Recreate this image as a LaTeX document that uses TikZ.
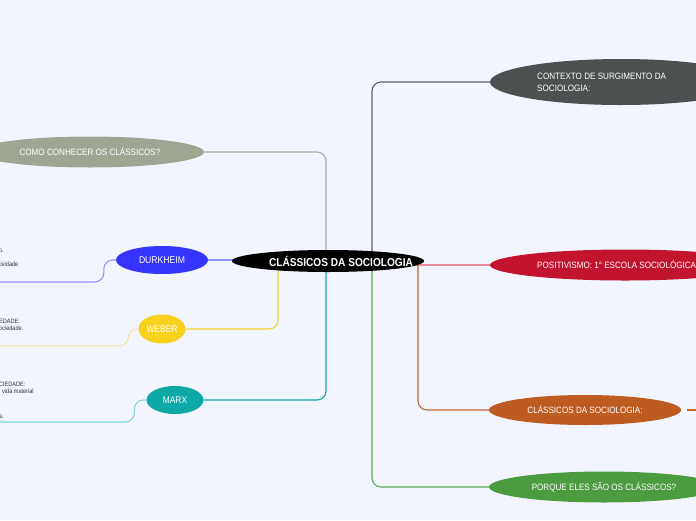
\documentclass[tikz,border=0pt]{standalone}
\usepackage{fontspec}
\setmainfont{Liberation Sans}[FakeStretch=0.88]
\usetikzlibrary{shapes.geometric}
\pgfdeclarelayer{bg}
\pgfsetlayers{bg,main}
\definecolor{cBg}{HTML}{F2F5FE}
\definecolor{cRoot}{HTML}{000000}
\definecolor{cCtx}{HTML}{4B5050}
\definecolor{cCtxL}{HTML}{5B6060}
\definecolor{cPos}{HTML}{C2132F}
\definecolor{cPosL}{HTML}{E68E9C}
\definecolor{cCls}{HTML}{BE5B21}
\definecolor{cClsL}{HTML}{C2652E}
\definecolor{cPq}{HTML}{4B9B3F}
\definecolor{cPqL}{HTML}{5DAA50}
\definecolor{cComo}{HTML}{9EA693}
\definecolor{cComoL}{HTML}{A8AF9F}
\definecolor{cDur}{HTML}{3535FF}
\definecolor{cDurL}{HTML}{9494FF}
\definecolor{cWeb}{HTML}{F8D11E}
\definecolor{cWebL}{HTML}{F6D22E}
\definecolor{cWebLL}{HTML}{F4E5A4}
\definecolor{cMarx}{HTML}{0DA8A8}
\definecolor{cMarxL}{HTML}{17ABAB}
\definecolor{cMarxLL}{HTML}{80D5D9}
\definecolor{cTxt}{HTML}{333333}
\begin{document}
\begin{tikzpicture}[x=1pt,y=-1pt,
  topic/.style={ellipse, inner sep=0pt, text=white, font=\fontsize{9.2}{12}\selectfont},
  ttext/.style={inner sep=0pt, text=white, font=\fontsize{9.2}{12}\selectfont},
  conn/.style={line width=1.1pt, rounded corners=9pt},
  tiny/.style={anchor=west, inner sep=0pt, text=cTxt, font=\fontsize{6.3}{7}\selectfont}]
\useasboundingbox (0,0) rectangle (696,520);
\clip (0,0) rectangle (696,520);
\begin{pgfonlayer}{bg}
\fill[cBg] (0,0) rectangle (696,520);
\end{pgfonlayer}

% central
\node[topic, fill=cRoot, minimum width=192pt, minimum height=22pt] (root) at (328,261) {};
\node[ttext, font=\bfseries\fontsize{11.5}{12}\selectfont] (roott) at (341,261) {CLÁSSICOS DA SOCIOLOGIA};

% right topics
\node[topic, fill=cCtx, minimum width=262pt, minimum height=46pt] (ctx) at (621,82) {};
\node[ttext, anchor=west, align=left] (ctxt) at (537,82) {CONTEXTO DE SURGIMENTO DA\\SOCIOLOGIA:};
\node[topic, fill=cPos, minimum width=270pt, minimum height=31pt] (pos) at (625,265) {};
\node[ttext, anchor=west] (post) at (537,265) {POSITIVISMO: 1° ESCOLA SOCIOLÓGICA};
\node[topic, fill=cCls, minimum width=192pt, minimum height=30pt] (cls) at (585,410) {CLÁSSICOS DA SOCIOLOGIA:};
\node[topic, fill=cPq, minimum width=230pt, minimum height=31pt] (pq) at (604,487) {PORQUE ELES SÃO OS CLÁSSICOS?};

% left topics
\node[topic, fill=cComo, minimum width=228pt, minimum height=31pt] (como) at (90,152) {COMO CONHECER OS CLÁSSICOS?};
\node[topic, fill=cDur, minimum width=92pt, minimum height=28pt, font=\fontsize{9.8}{12}\selectfont] (dur) at (162,260) {DURKHEIM};
\node[topic, fill=cWeb, minimum width=47pt, minimum height=29pt, font=\fontsize{9.6}{12}\selectfont] (web) at (162,329) {WEBER};
\node[topic, fill=cMarx, minimum width=57pt, minimum height=28pt, font=\fontsize{9.6}{12}\selectfont] (marx) at (175,400) {MARX};

% truncated texts at left edge
\node[tiny] (d1) at (-1,251) {o.};
\node[tiny] (d2) at (-1,264) {tividade};
\node[tiny] (w1) at (-1,321) {EDADE:};
\node[tiny] (w2) at (-1,328) {ociedade.};
\node[tiny] (m1) at (-1,384) {CIEDADE:};
\node[tiny] (m2) at (2,391) {vida material};
\node[tiny] (m3) at (-1,417) {a.};

\coordinate (dl) at (0,282);
\coordinate (wl) at (0,346);
\coordinate (ml) at (0,422);
\coordinate (cr) at (700,410);

\begin{pgfonlayer}{bg}
\draw[conn, cCtxL] ([xshift=44pt]root.center) |- (ctx.west);
\draw[conn, cPqL] ([xshift=44pt]root.center) |- (pq.west);
\draw[conn, cPosL] (root.center |- pos.west) -- (pos.west);
\draw[conn, cClsL] ([xshift=90pt]root.center) |- (cls.west);
\draw[conn, cClsL] ([xshift=6pt]cls.east) -- (cr);
\draw[conn, cComoL] ([xshift=-2pt]root.center) |- (como.east);
\draw[conn, cMarxL] ([xshift=-2pt]root.center) |- (marx.east);
\draw[conn, cWebL] ([xshift=-50pt]root.center) |- (web.east);
\draw[conn, cDurL] (root.center |- dur.east) -- (dur.east);
\draw[conn, cDurL] (dur.west) -- ++(-12,0) |- (dl);
\draw[conn, cWebLL] (web.west) -- ++(-10,0) |- (wl);
\draw[conn, cMarxLL] (marx.west) -- ++(-12,0) |- (ml);
\end{pgfonlayer}
\end{tikzpicture}
\end{document}
